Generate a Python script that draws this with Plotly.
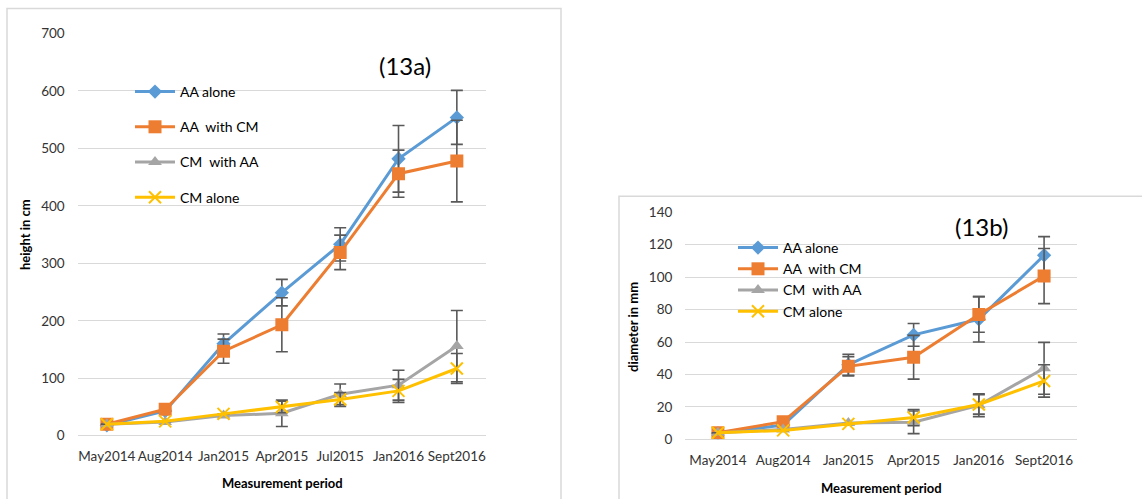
import plotly.graph_objects as go

# ---------- data: height (13a) ----------
periods_a = ["May2014", "Aug2014", "Jan2015", "Apr2015", "Jul2015", "Jan2016", "Sept2016"]
h_aa_alone = [18, 43, 160, 249, 333, 482, 554]
h_aa_alone_err = [0, 0, 17, 23, 29, 58, 47]
h_aa_with_cm = [20, 46, 147, 193, 319, 456, 478]
h_aa_with_cm_err = [0, 0, 21, 47, 30, 41, 71]
h_cm_with_aa = [20, 24, 35, 39, 72, 88, 156]
h_cm_with_aa_err = [0, 0, 0, 23, 18, 26, 62]
h_cm_alone = [20, 25, 38, 50, 63, 78, 117]
h_cm_alone_err = [0, 0, 0, 10, 12, 20, 26]

# ---------- data: diameter (13b) ----------
periods_b = ["May2014", "Aug2014", "Jan2015", "Apr2015", "Jan2016", "Sept2016"]
d_aa_alone = [3.7, 8.8, 46, 64.4, 74, 113.5]
d_aa_alone_err = [0, 0, 6.5, 7, 14, 11.5]
d_aa_with_cm = [4, 10.9, 45, 50.6, 77, 100.7]
d_aa_with_cm_err = [0, 0, 6, 13.5, 11, 17]
d_cm_with_aa = [4, 6, 10, 10.5, 21, 43.8]
d_cm_with_aa_err = [0, 0, 0, 7, 7, 16]
d_cm_alone = [4, 5.5, 9.5, 13.4, 21.5, 36]
d_cm_alone_err = [0, 0, 0, 5, 6, 10]

names = ["AA alone", "AA  with CM", "CM  with AA", "CM alone"]
colors = ["#5B9BD5", "#ED7D31", "#A5A5A5", "#FFC000"]
symbols = ["diamond", "square", "triangle-up", "x-thin"]
msizes = [11, 13, 12, 12]

FONT = "Lato"
W, H = 1142, 499


def px_x(p):
    return p / W


def px_y(p):
    return 1 - p / H


fig = go.Figure()

series_a = [(h_aa_alone, h_aa_alone_err), (h_aa_with_cm, h_aa_with_cm_err),
            (h_cm_with_aa, h_cm_with_aa_err), (h_cm_alone, h_cm_alone_err)]
series_b = [(d_aa_alone, d_aa_alone_err), (d_aa_with_cm, d_aa_with_cm_err),
            (d_cm_with_aa, d_cm_with_aa_err), (d_cm_alone, d_cm_alone_err)]


def marker(i):
    m = dict(symbol=symbols[i], size=msizes[i], color=colors[i])
    if symbols[i] == "x-thin":
        m["line"] = dict(color=colors[i], width=2)
    else:
        m["line"] = dict(width=0)
    return m


for i, (vals, err) in enumerate(series_a):
    fig.add_trace(go.Scatter(
        x=periods_a, y=vals, name=names[i], mode="lines+markers",
        line=dict(color=colors[i], width=3), marker=marker(i),
        error_y=dict(type="data", array=err, color="#595959", thickness=1.6, width=6),
        xaxis="x", yaxis="y", legend="legend", legendgroup="a%d" % i,
    ))

for i, (vals, err) in enumerate(series_b):
    fig.add_trace(go.Scatter(
        x=periods_b, y=vals, name=names[i], mode="lines+markers",
        line=dict(color=colors[i], width=3), marker=marker(i),
        error_y=dict(type="data", array=err, color="#595959", thickness=1.6, width=6),
        xaxis="x2", yaxis="y2", legend="legend2", legendgroup="b%d" % i,
    ))

grid = "#D9D9D9"
tickfont = dict(family=FONT, size=13.5, color="#333333")


def ann(text, x, y, size, angle=0):
    return dict(text=text, x=px_x(x), y=px_y(y), xref="paper", yref="paper",
                xanchor="center", yanchor="middle", showarrow=False, textangle=angle,
                font=dict(family=FONT, size=size, color="#000000"))


fig.update_layout(
    width=W, height=H,
    margin=dict(l=0, r=0, t=0, b=0, autoexpand=False),
    paper_bgcolor="white", plot_bgcolor="white",
    font=dict(family=FONT, color="#333333"),
    xaxis=dict(domain=[px_x(77.7), px_x(486)], type="category", range=[-0.5, 6.5],
               showgrid=False, showline=False, zeroline=False, ticks="", tickangle=0,
               tickfont=tickfont, anchor="y", automargin=False, ticklabelstandoff=11),
    yaxis=dict(domain=[px_y(435.7), px_y(33.5)], range=[0, 700], dtick=100,
               showgrid=True, gridcolor=grid, gridwidth=1.3, zeroline=True,
               zerolinecolor=grid, zerolinewidth=1.3, showline=False,
               tickfont=tickfont, anchor="x", ticklabelstandoff=12, automargin=False),
    xaxis2=dict(domain=[px_x(685.3), px_x(1076.7)], type="category", range=[-0.5, 5.5],
                showgrid=False, showline=False, zeroline=False, ticks="", tickangle=0,
                tickfont=tickfont, anchor="y2", automargin=False, ticklabelstandoff=11),
    yaxis2=dict(domain=[px_y(439.3), px_y(212.3)], range=[0, 140], dtick=20,
                showgrid=True, gridcolor=grid, gridwidth=1.3, zeroline=True,
                zerolinecolor=grid, zerolinewidth=1.3, showline=False,
                tickfont=tickfont, anchor="x2", ticklabelstandoff=12, automargin=False),
    legend=dict(x=px_x(130), y=px_y(76), xanchor="left", yanchor="top",
                bgcolor="rgba(0,0,0,0)", font=dict(family=FONT, size=14, color="#000000"),
                tracegroupgap=14, itemwidth=40),
    legend2=dict(x=px_x(733), y=px_y(232), xanchor="left", yanchor="top",
                 bgcolor="rgba(0,0,0,0)", font=dict(family=FONT, size=14, color="#000000"),
                 tracegroupgap=0, itemwidth=40),
    shapes=[
        dict(type="rect", xref="paper", yref="paper", x0=px_x(7), x1=px_x(561),
             y0=px_y(520), y1=px_y(8.5), line=dict(color="#D9D9D9", width=1.5),
             fillcolor="rgba(0,0,0,0)", layer="below"),
        dict(type="rect", xref="paper", yref="paper", x0=px_x(619), x1=px_x(1160),
             y0=px_y(520), y1=px_y(196.3), line=dict(color="#D9D9D9", width=1.5),
             fillcolor="rgba(0,0,0,0)", layer="below"),
    ],
    annotations=[
        ann("(13a)", 405, 65, 24),
        ann("(13b)", 981, 226, 24),
        ann("<b>height in cm</b>", 25, 235, 13, -90),
        ann("<b>Measurement period</b>", 282, 483, 13),
        ann("<b>diameter in mm</b>", 633, 327, 13, -90),
        ann("<b>Measurement period</b>", 881, 488, 13),
    ],
)

fig.write_html("out.html")
